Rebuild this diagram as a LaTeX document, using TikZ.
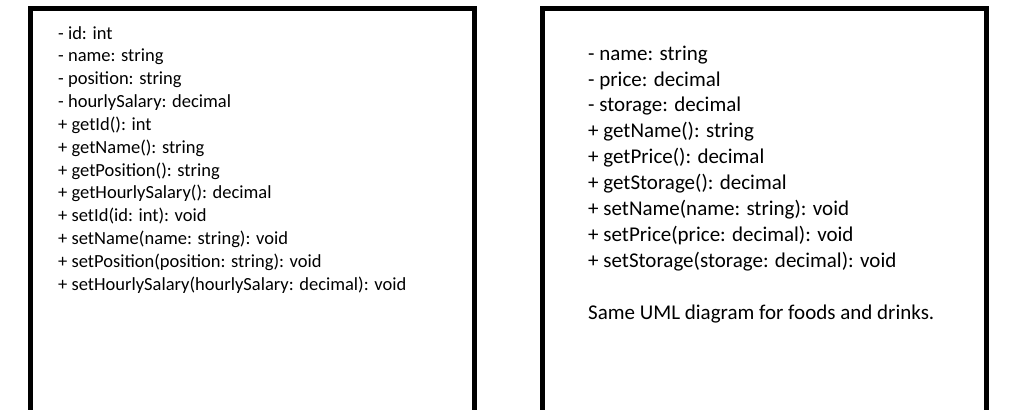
\documentclass[tikz,border=0pt]{standalone}
\usepackage{fontspec}
\setmainfont{Carlito}
\usepackage{tikz}

\tikzset{
  umlframe/.style={line width=5pt, black},
  umltext/.style={anchor=north west, align=left, inner sep=0pt}
}

\begin{document}
\begin{tikzpicture}[x=1pt,y=-1pt]
\useasboundingbox (0,0) rectangle (1013,410);
% class frames, open at the bottom
\draw[umlframe] (30,412) -- (30,8.5) -- (474,8.5) -- (474,412);
\draw[umlframe] (542.5,412) -- (542.5,8.5) -- (986.5,8.5) -- (986.5,412);
% staff members
\node[umltext, font=\fontsize{18.5}{22.85}\selectfont] (staff) at (58,26) {%
- id: int\\
- name: string\\
- position: string\\
- hourlySalary: decimal\\
+ getId(): int\\
+ getName(): string\\
+ getPosition(): string\\
+ getHourlySalary(): decimal\\
+ setId(id: int): void\\
+ setName(name: string): void\\
+ setPosition(position: string): void\\
+ setHourlySalary(hourlySalary: decimal): void};
% products
\node[umltext, font=\fontsize{21}{25.9}\selectfont] (product) at (588,45.5) {%
- name: string\\
- price: decimal\\
- storage: decimal\\
+ getName(): string\\
+ getPrice(): decimal\\
+ getStorage(): decimal\\
+ setName(name: string): void\\
+ setPrice(price: decimal): void\\
+ setStorage(storage: decimal): void\\[25.9pt]
Same UML diagram for foods and drinks.};
\end{tikzpicture}
\end{document}
